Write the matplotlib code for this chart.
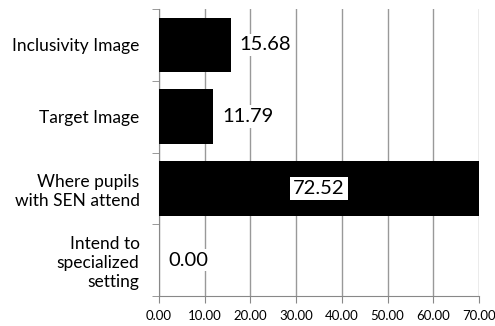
import matplotlib.pyplot as plt
import numpy as np

plt.rcParams['font.family'] = ['Lato', 'DejaVu Sans']

categories = ['Inclusivity Image', 'Target Image', 'Where pupils\nwith SEN attend',
              'Intend to\nspecialized\nsetting']
values = [15.68, 11.79, 72.52, 0.00]
xticks = [0, 10, 20, 30, 40, 50, 60, 70]

fig = plt.figure(figsize=(4.95, 3.26), dpi=100)
ax = fig.add_axes([159 / 495, 30 / 326, 320 / 495, 287 / 326])

y = np.arange(len(categories))
ax.barh(y, values, height=0.76, color='black', zorder=3)

ax.set_xlim(0, 70)
ax.set_ylim(len(categories) - 0.5, -0.5)
ax.set_xticks(xticks)
ax.set_xticklabels(['%.2f' % t for t in xticks], fontsize=9.5)
ax.set_yticks(y)
ax.set_yticklabels(categories, fontsize=12.5, linespacing=1.25)
ax.set_yticks(np.arange(len(categories) + 1) - 0.5, minor=True)
ax.tick_params(axis='y', which='major', length=0, pad=14)
ax.tick_params(axis='y', which='minor', length=5, color='#888888')
ax.tick_params(axis='x', length=5, color='#888888', pad=5)

ax.grid(axis='x', color='#999999', linewidth=1, zorder=0)
for s in ['top', 'right']:
    ax.spines[s].set_visible(False)
ax.spines['left'].set_color('#888888')
ax.spines['bottom'].set_color('#888888')

box = dict(facecolor='white', edgecolor='none', pad=2)
for yi, v in zip(y, values):
    label = '%.2f' % v
    if v > 70:
        ax.text(35, yi, label, ha='center', va='center', fontsize=14.5, bbox=box, zorder=4)
    else:
        ax.text(v + 2, yi, label, ha='left', va='center', fontsize=14.5, bbox=box, zorder=4)

fig.savefig('out.png', dpi=100)
